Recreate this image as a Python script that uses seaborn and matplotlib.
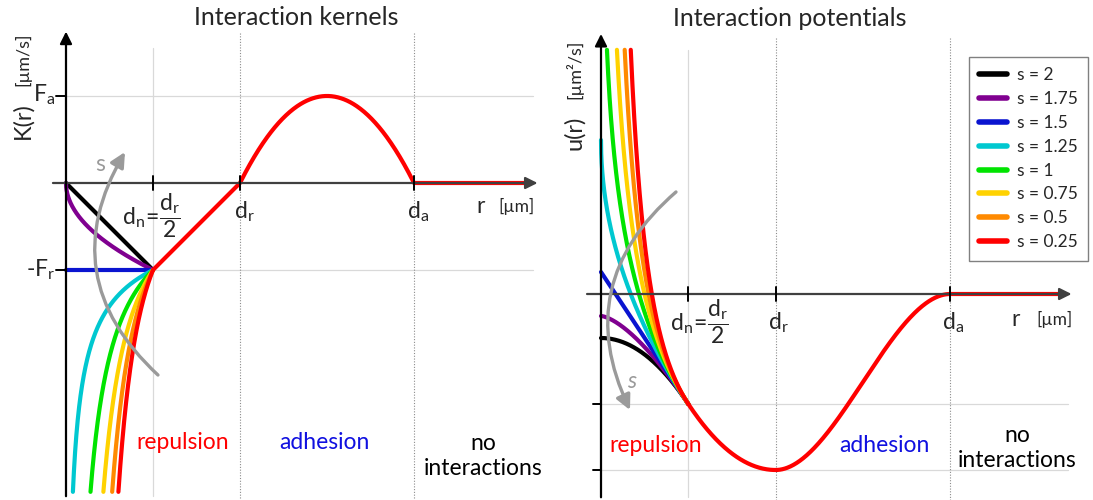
import matplotlib

matplotlib.use("Agg")

import matplotlib.pyplot as plt
from matplotlib.lines import Line2D
import numpy as np
import pandas as pd
import seaborn as sns

# kernel family, one curve per exponent s
S_VALUES = [2, 1.75, 1.5, 1.25, 1, 0.75, 0.5, 0.25]
S_LABELS = ["s = 2", "s = 1.75", "s = 1.5", "s = 1.25", "s = 1", "s = 0.75", "s = 0.5", "s = 0.25"]
S_COLORS = ["#000000", "#800090", "#0a14d0", "#00c8d0", "#00e400", "#ffd200", "#ff8a00", "#ff0000"]

# distances (um) and force amplitudes
D_N, D_R, D_A = 1.0, 2.0, 4.0
F_A, F_R = 1.0, 1.0

K_CLIP = -3.55   # lower end of the drawn kernel curves
U_CLIP = 1.85    # upper end of the drawn potential curves

REGION_NAMES = ["repulsion", "adhesion", "no\ninteractions"]
REGION_COLORS = ["#ff0000", "#1010e0", "#000000"]

GRID = "#d9d9d9"
ARROW_GRAY = "#9a9a9a"
FS = 16.5


def set_style() -> None:
    sns.set_theme(style="white")
    plt.rcParams["font.family"] = ["Lato", "DejaVu Sans"]
    plt.rcParams["mathtext.fontset"] = "custom"
    plt.rcParams["mathtext.rm"] = "Lato"
    plt.rcParams["mathtext.it"] = "Lato:italic"
    plt.rcParams["mathtext.bf"] = "Lato:bold"


def kernel_tail(r):
    """Shared part of K(r) beyond d_n: linear repulsion, parabolic adhesion, zero."""
    mid, half = (D_R + D_A) / 2, (D_A - D_R) / 2
    return np.where(
        r < D_R,
        -F_R * (D_R - r) / (D_R - D_N),
        np.where(r < D_A, F_A * (1 - ((r - mid) / half) ** 2), 0.0),
    )


def potential_tail(r):
    mid, half = (D_R + D_A) / 2, (D_A - D_R) / 2
    t = (r - mid) / half
    u_adh = -F_A * half * (2 / 3 - t + t ** 3 / 3)
    u_dr = -F_A * half * 4 / 3
    u_lin = u_dr + F_R * (D_R - r) ** 2 / (2 * (D_R - D_N))
    return np.where(r < D_R, u_lin, np.where(r < D_A, u_adh, 0.0))


def kernel_frame() -> pd.DataFrame:
    parts = []
    for s, lab in zip(S_VALUES, S_LABELS):
        p = 2 * s - 3
        r0 = D_N * (abs(K_CLIP) / F_R) ** (1 / p) if p < 0 else 0.0
        r = np.linspace(r0, D_N, 400)
        k = -F_R * (r / D_N) ** p
        parts.append(pd.DataFrame({"r": r, "K": k, "s": lab}))
    return pd.concat(parts, ignore_index=True)


def potential_frame() -> pd.DataFrame:
    u_dn = float(potential_tail(np.array(D_N)))
    room = (U_CLIP - u_dn) / (F_R * D_N)
    parts = []
    for s, lab in zip(S_VALUES, S_LABELS):
        q = 2 * s - 2
        if q > 0:
            x0 = 0.0
        elif q == 0:
            x0 = np.exp(-room)
        else:
            x0 = (1 - q * room) ** (1 / q)
        x = np.linspace(x0, 1.0, 400)
        if q == 0:
            integral = -np.log(x)
        else:
            integral = (1 - x ** q) / q
        u = u_dn + F_R * D_N * integral
        parts.append(pd.DataFrame({"r": x * D_N, "u": u, "s": lab}))
    return pd.concat(parts, ignore_index=True)


def axis_arrow(ax, start, end, color="black", lw=1.6):
    ax.annotate("", xy=end, xytext=start,
                arrowprops=dict(arrowstyle="-|>", color=color, lw=lw,
                                mutation_scale=18, shrinkA=0, shrinkB=0),
                zorder=6)


def s_arrow(ax, start, end, rad):
    ax.annotate("", xy=end, xytext=start,
                arrowprops=dict(arrowstyle="-|>", color=ARROW_GRAY, lw=2.4,
                                mutation_scale=22, shrinkA=0, shrinkB=0,
                                connectionstyle=f"arc3,rad={rad}"),
                zorder=7)


set_style()
fig = plt.figure(figsize=(10.93, 5.0), dpi=100)
ax_k = fig.add_axes([0, 0, 545 / 1093, 1])
ax_u = fig.add_axes([550 / 1093, 0, 543 / 1093, 1])
for ax in (ax_k, ax_u):
    ax.axis("off")

palette = dict(zip(S_LABELS, S_COLORS))
dn_label = r"$\mathregular{d_n\!=\!\dfrac{d_r}{2}}$"

# ---------------- left: interaction kernels ----------------
ax = ax_k
ax.set_xlim(-0.7586, 5.5057)
ax.set_ylim(-3.6437, 2.1034)

ax.plot([0, 5.37], [F_A, F_A], color=GRID, lw=0.9, zorder=0)
ax.plot([0, 5.37], [-F_R, -F_R], color=GRID, lw=0.9, zorder=0)
ax.plot([D_N, D_N], [1.55, -3.6], color=GRID, lw=0.9, zorder=0)
for xv in (D_R, D_A):
    ax.plot([xv, xv], [1.72, -3.64], color="#8c8c8c", lw=0.8, ls=(0, (1, 1.5)), zorder=0)

sns.lineplot(data=kernel_frame(), x="r", y="K", hue="s", palette=palette, hue_order=S_LABELS,
             sort=False, estimator=None, legend=False, lw=3, ax=ax, zorder=3)
r_tail = np.linspace(D_N, 5.3, 600)
sns.lineplot(x=r_tail, y=kernel_tail(r_tail), color="#ff0000", lw=3, sort=False,
             estimator=None, ax=ax, zorder=4)
ax.set_xlabel("")
ax.set_ylabel("")

axis_arrow(ax, (-0.15, 0), (5.42, 0), color="#404040")
axis_arrow(ax, (0, -3.6), (0, 1.74))
for yv in (F_A, -F_R):
    ax.plot([-0.12, 0], [yv, yv], color="black", lw=1.4, zorder=6)
for xv in (D_N, D_R, D_A):
    ax.plot([xv, xv], [-0.08, 0.08], color="black", lw=1.4, zorder=6)

ax.text(2.65, 1.897, "Interaction kernels", fontsize=18, ha="center", va="center")
ax.text(-0.50, 0.72, "K(r)", fontsize=17, rotation=90, ha="center", va="center")
ax.text(-0.50, 1.42, "[µm/s]", fontsize=13, rotation=90, ha="center", va="center")
ax.text(-0.25, 1.02, r"$\mathregular{F_a}$", fontsize=FS, ha="center", va="center")
ax.text(-0.29, -1.0, r"-$\mathregular{F_r}$", fontsize=FS, ha="center", va="center")
ax.text(0.98, -0.37, dn_label, fontsize=FS, ha="center", va="center")
ax.text(2.05, -0.33, r"$\mathregular{d_r}$", fontsize=FS, ha="center", va="center")
ax.text(4.05, -0.33, r"$\mathregular{d_a}$", fontsize=FS, ha="center", va="center")
ax.text(4.76, -0.27, "r", fontsize=FS, ha="center", va="center")
ax.text(5.18, -0.27, "[µm]", fontsize=12.5, ha="center", va="center")
for xv, name, col in zip([1.345, 2.966, 4.8], REGION_NAMES, REGION_COLORS):
    ax.text(xv, -2.98 if "\n" not in name else -3.14, name, fontsize=FS, color=col,
            ha="center", va="center", linespacing=1.25)

s_arrow(ax, (1.057, -2.207), (0.678, 0.356), -0.4)
ax.text(0.39, 0.21, "s", fontsize=FS, color=ARROW_GRAY, ha="center", va="center")

# ---------------- right: interaction potentials ----------------
ax = ax_u
ax.set_xlim(-0.5842, 5.6357)
ax.set_ylim(-1.5606, 2.2273)
u_dn = float(potential_tail(np.array(D_N)))
u_dr = float(potential_tail(np.array(D_R)))

ax.plot([0, 5.35], [u_dn, u_dn], color=GRID, lw=0.9, zorder=0)
ax.plot([0, 5.35], [u_dr, u_dr], color=GRID, lw=0.9, zorder=0)
ax.plot([D_N, D_N], [1.85, -1.54], color=GRID, lw=0.9, zorder=0)
for xv in (D_R, D_A):
    ax.plot([xv, xv], [1.94, -1.56], color="#8c8c8c", lw=0.8, ls=(0, (1, 1.5)), zorder=0)

sns.lineplot(data=potential_frame(), x="r", y="u", hue="s", palette=palette, hue_order=S_LABELS,
             sort=False, estimator=None, legend=False, lw=3, ax=ax, zorder=3)
sns.lineplot(x=r_tail, y=potential_tail(r_tail), color="#ff0000", lw=3, sort=False,
             estimator=None, ax=ax, zorder=4)
ax.set_xlabel("")
ax.set_ylabel("")

axis_arrow(ax, (-0.16, 0), (5.39, 0), color="#404040")
axis_arrow(ax, (0, -1.54), (0, 1.97))
for yv in (u_dn, u_dr):
    ax.plot([-0.09, 0], [yv, yv], color="black", lw=1.4, zorder=6)
for xv in (D_N, D_R, D_A):
    ax.plot([xv, xv], [-0.055, 0.055], color="black", lw=1.4, zorder=6)

ax.text(2.165, 2.09, "Interaction potentials", fontsize=18, ha="center", va="center")
ax.text(-0.30, 1.22, "u(r)", fontsize=17, rotation=90, ha="center", va="center")
ax.text(-0.30, 1.70, "[µm²/s]", fontsize=13, rotation=90, ha="center", va="center")
ax.text(1.12, -0.21, dn_label, fontsize=FS, ha="center", va="center")
ax.text(2.03, -0.22, r"$\mathregular{d_r}$", fontsize=FS, ha="center", va="center")
ax.text(4.03, -0.22, r"$\mathregular{d_a}$", fontsize=FS, ha="center", va="center")
ax.text(4.75, -0.19, "r", fontsize=FS, ha="center", va="center")
ax.text(5.2, -0.19, "[µm]", fontsize=12.5, ha="center", va="center")
for xv, name, col in zip([0.63, 3.25, 4.77], REGION_NAMES, REGION_COLORS):
    ax.text(xv, -1.15 if "\n" not in name else -1.165, name, fontsize=FS, color=col,
            ha="center", va="center", linespacing=1.25)

s_arrow(ax, (0.859, 0.773), (0.332, -0.879), 0.38)
ax.text(0.355, -0.66, "s", fontsize=FS, color=ARROW_GRAY, style="italic", ha="center", va="center")

handles = [Line2D([0], [0], color=c, lw=4) for c in S_COLORS]
leg = ax.legend(handles, S_LABELS, loc="upper right", bbox_to_anchor=(1088 / 1093, 1 - 57 / 500),
                bbox_transform=fig.transFigure, frameon=True, fancybox=False, edgecolor="#808080",
                fontsize=12.5, handlelength=1.6, handletextpad=0.55, labelspacing=0.45,
                borderpad=0.6, borderaxespad=0, framealpha=1)
leg.get_frame().set_linewidth(1.0)

fig.savefig("out.png", dpi=100)
plt.close(fig)
